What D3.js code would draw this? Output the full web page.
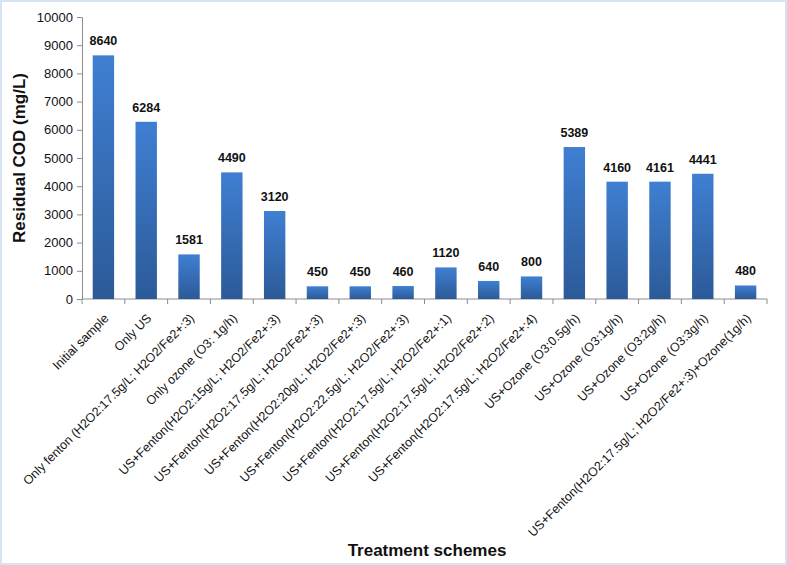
<!DOCTYPE html>
<html>
<head>
<meta charset="utf-8">
<script src="https://cdn.jsdelivr.net/npm/d3@7"></script>
<style>
  body { margin: 0; background: #fff; }
  svg { display: block; }
</style>
</head>
<body>
<svg id="chart"></svg>
<script>
// data
const schemes = [
  'Initial sample', 'Only US', 'Only fenton (H2O2:17.5g/L; H2O2/Fe2+:3)', 'Only ozone (O3: 1g/h)',
  'US+Fenton(H2O2:15g/L; H2O2/Fe2+:3)', 'US+Fenton(H2O2:17.5g/L; H2O2/Fe2+:3)',
  'US+Fenton(H2O2:20g/L; H2O2/Fe2+:3)', 'US+Fenton(H2O2:22.5g/L; H2O2/Fe2+:3)',
  'US+Fenton(H2O2:17.5g/L; H2O2/Fe2+:1)', 'US+Fenton(H2O2:17.5g/L; H2O2/Fe2+:2)',
  'US+Fenton(H2O2:17.5g/L; H2O2/Fe2+:4)', 'US+Ozone (O3:0.5g/h)', 'US+Ozone (O3:1g/h)',
  'US+Ozone (O3:2g/h)', 'US+Ozone (O3:3g/h)', 'US+Fenton(H2O2:17.5g/L; H2O2/Fe2+:3)+Ozone(1g/h)'
];
const codValues = [8640, 6284, 1581, 4490, 3120, 450, 450, 460, 1120, 640, 800, 5389, 4160, 4161, 4441, 480];
const yTicks = [0, 1000, 2000, 3000, 4000, 5000, 6000, 7000, 8000, 9000, 10000];

const W = 787, H = 565;
const margin = {left: 82, right: 20, top: 17, bottom: 266};
const font = '"Liberation Sans", Arial, sans-serif';

const svg = d3.select('#chart').attr('width', W).attr('height', H);

// light blue frame round the picture
svg.append('rect')
  .attr('x', 1).attr('y', 1).attr('width', W - 2).attr('height', H - 2)
  .attr('fill', '#fff').attr('stroke', '#d6e3f3').attr('stroke-width', 2);

const defs = svg.append('defs');
const grad = defs.append('linearGradient').attr('id', 'barGrad')
  .attr('x1', 0).attr('y1', 0).attr('x2', 0).attr('y2', 1);
grad.append('stop').attr('offset', '0%').attr('stop-color', '#3f7fd2');
grad.append('stop').attr('offset', '100%').attr('stop-color', '#2c5a98');

const x = d3.scaleBand().domain(schemes).range([margin.left, 767]).paddingInner(0.5).paddingOuter(0.25);
const y = d3.scaleLinear().domain([0, 10000]).range([299, margin.top]);

const axisColor = '#8c8c8c';

// y axis
const yAxis = svg.append('g')
  .attr('transform', `translate(${margin.left},0)`)
  .call(d3.axisLeft(y).tickValues(yTicks).tickSize(5).tickPadding(4).tickFormat(d3.format('d')));
yAxis.select('.domain').attr('stroke', axisColor);
yAxis.selectAll('.tick line').attr('stroke', axisColor);
yAxis.selectAll('text').attr('font-family', font).attr('font-size', 13).attr('fill', '#111');

// x axis: ticks sit between categories
const x0 = margin.left;
const boundaries = d3.range(schemes.length + 1).map(i => x0 + i * (767 - x0) / schemes.length);
const xAxis = svg.append('g');
xAxis.append('line')
  .attr('x1', x0).attr('x2', 767).attr('y1', 299).attr('y2', 299)
  .attr('stroke', axisColor);
xAxis.selectAll('.tk').data(boundaries).join('line')
  .attr('class', 'tk')
  .attr('x1', d => d).attr('x2', d => d).attr('y1', 299).attr('y2', 304)
  .attr('stroke', axisColor);

// bars
svg.selectAll('.bar').data(codValues).join('rect')
  .attr('class', 'bar')
  .attr('x', (d, i) => x(schemes[i]))
  .attr('y', d => y(d))
  .attr('width', x.bandwidth())
  .attr('height', d => y(0) - y(d))
  .attr('fill', 'url(#barGrad)');

// value labels
svg.selectAll('.val').data(codValues).join('text')
  .attr('class', 'val')
  .attr('x', (d, i) => x(schemes[i]) + x.bandwidth() / 2)
  .attr('y', d => y(d) - 10)
  .attr('text-anchor', 'middle')
  .attr('font-family', font).attr('font-size', 12.5).attr('font-weight', 'bold')
  .attr('fill', '#111')
  .text(d => d);

// category labels, rotated 45 degrees
svg.selectAll('.cat').data(schemes).join('text')
  .attr('class', 'cat')
  .attr('transform', d => `translate(${x(d) + x.bandwidth() / 2 + 6},${319}) rotate(-45)`)
  .attr('text-anchor', 'end')
  .attr('font-family', font).attr('font-size', 12.5)
  .attr('fill', '#111')
  .text(d => d);

// axis titles
svg.append('text')
  .attr('transform', `translate(25,158) rotate(-90)`)
  .attr('text-anchor', 'middle')
  .attr('font-family', font).attr('font-size', 17).attr('font-weight', 'bold')
  .attr('fill', '#111')
  .text('Residual COD (mg/L)');

svg.append('text')
  .attr('x', 427).attr('y', 556)
  .attr('text-anchor', 'middle')
  .attr('font-family', font).attr('font-size', 17).attr('font-weight', 'bold')
  .attr('fill', '#111')
  .text('Treatment schemes');
</script>
</body>
</html>
